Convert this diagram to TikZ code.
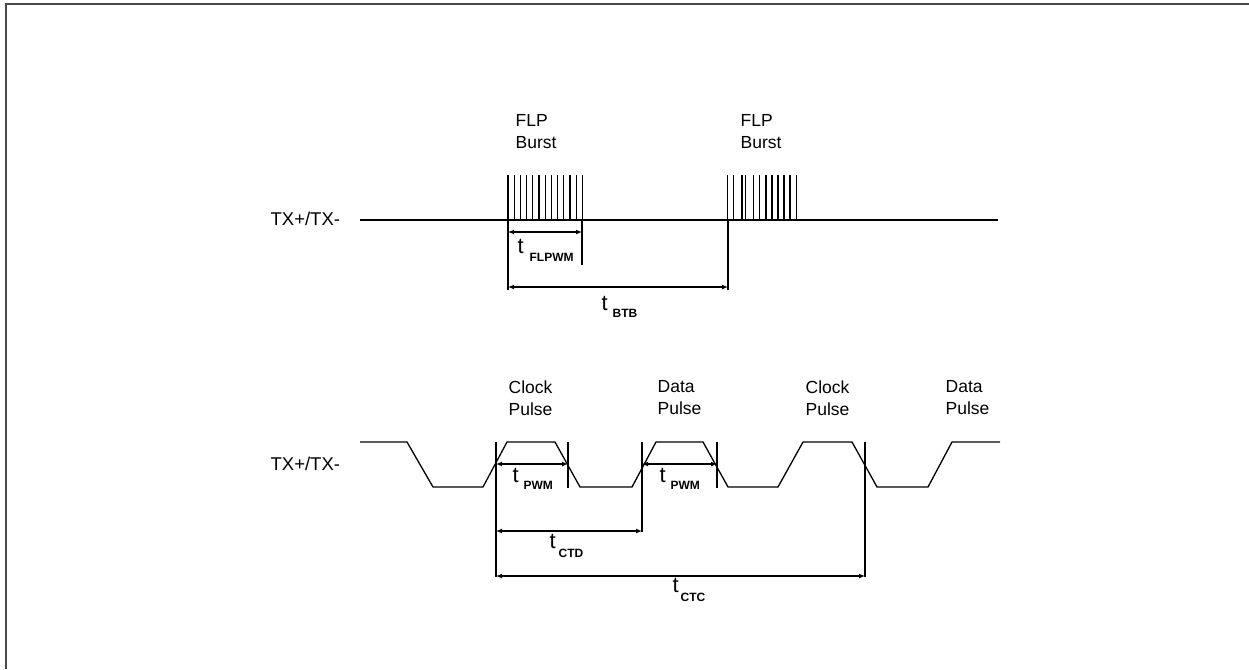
\documentclass[tikz,border=0pt]{standalone}
\usepackage{fontspec}
\setmainfont{Liberation Sans}
\usetikzlibrary{arrows.meta}
\definecolor{framegray}{HTML}{4A4A4A}

\begin{document}
\begin{tikzpicture}[x=1pt,y=-1pt,line width=1.3pt,
  pulselbl/.style={font=\fontsize{17.5}{22}\selectfont,align=left,inner sep=0pt,anchor=north west},
  siglbl/.style={font=\fontsize{18.5}{20}\selectfont,inner sep=0pt,anchor=base west},
  tlbl/.style={font=\fontsize{22}{22}\selectfont,inner sep=0pt,anchor=base west},
  sublbl/.style={font=\bfseries\fontsize{12}{12}\selectfont,inner sep=0pt,anchor=base west},
  dim/.style={{Latex[length=6pt,width=5pt]}-{Latex[length=6pt,width=5pt]},line width=1.2pt}]

  \useasboundingbox (0,0) rectangle (1249,669);
  \draw[line width=2pt,framegray] (6,669) -- (6,4) -- (1249,4);

  % FLP bursts
  \node[siglbl] (tx1) at (270,225) {TX+/TX-};
  \node[pulselbl] (flp1) at (515,114) {FLP\\Burst};
  \node[pulselbl] (flp2) at (740,114) {FLP\\Burst};

  \draw (360,220) -- (998,220);
  \foreach \x in {0,...,12}
    \draw (508+\x*6.2,220) -- ++(0,-45);
  \foreach \x in {727.5,733.3,742,745.5,753.3,759.3,766,772,778,784,790,796.7}
    \draw (\x,220) -- ++(0,-45);

  \coordinate (b1) at (508,220);
  \coordinate (b1e) at (582,220);
  \coordinate (b2) at (728,220);
  \draw (b1) -- (508,290);
  \draw (b1e) -- (582,265);
  \draw (b2) -- (728,290);
  \draw[dim] (508,232) -- (582,232);
  \draw[dim] (508,287) -- (728,287);

  \node[tlbl] (tfl) at (517,253) {t};
  \node[sublbl] (sfl) at (529,261) {FLPWM};
  \node[tlbl] (tbt) at (601,310) {t};
  \node[sublbl] (sbt) at (612,317) {BTB};

  % clock / data pulses
  \node[siglbl] (tx2) at (270,470) {TX+/TX-};
  \node[pulselbl] (clk1) at (508,380) {Clock\\Pulse};
  \node[pulselbl] (dat1) at (657,380) {Data\\Pulse};
  \node[pulselbl] (clk2) at (805,380) {Clock\\Pulse};
  \node[pulselbl] (dat2) at (945,380) {Data\\Pulse};

  \draw (360,442) -- (407,442) -- (433,487) -- (483,487) -- (507,442) -- (555,442)
    -- (580,487) -- (632,487) -- (656,442) -- (703,442) -- (728,487) -- (778,487)
    -- (803,442) -- (852,442) -- (877,487) -- (928,487) -- (952,442) -- (1000,442);

  \draw (496,442) -- (496,577);
  \draw (568,442) -- (568,488);
  \draw (642,442) -- (642,532);
  \draw (717,442) -- (717,488);
  \draw (865,442) -- (865,577);

  \draw[dim] (496,464) -- (568,464);
  \draw[dim] (642,464) -- (717,464);
  \draw[dim] (496,531) -- (642,531);
  \draw[dim] (496,576) -- (865,576);

  \node[tlbl] (tp1) at (512,482) {t};
  \node[sublbl] (sp1) at (523,489) {PWM};
  \node[tlbl] (tp2) at (659,482) {t};
  \node[sublbl] (sp2) at (670,489) {PWM};
  \node[tlbl] (tcd) at (549,548) {t};
  \node[sublbl] (scd) at (558,557) {CTD};
  \node[tlbl] (tcc) at (672,592) {t};
  \node[sublbl] (scc) at (680,601) {CTC};
\end{tikzpicture}
\end{document}
